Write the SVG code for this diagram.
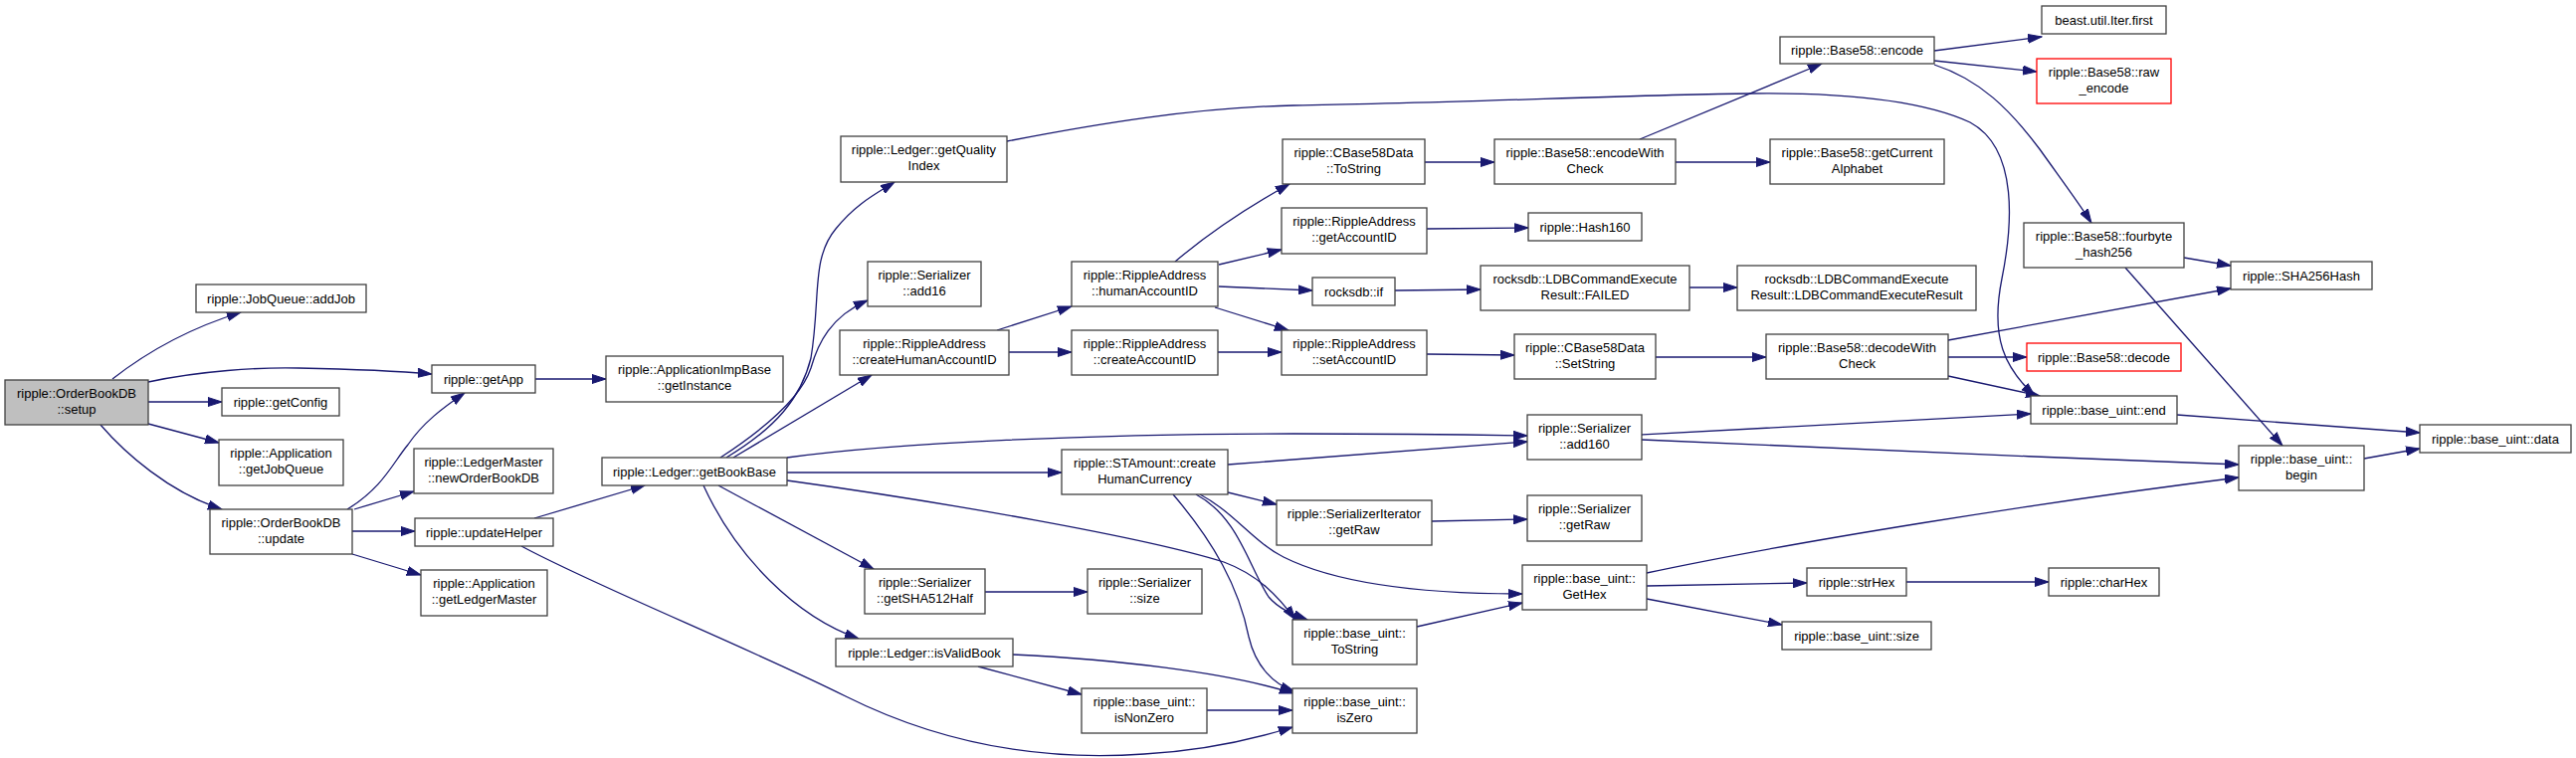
<svg xmlns="http://www.w3.org/2000/svg" width="2589" height="762" viewBox="0 0 2589 762">
<defs>
<style>
.n rect{fill:#ffffff;stroke:#404040;stroke-width:1.3}
.n.root rect{fill:#bfbfbf}
.n.red rect{stroke:#ff0000}
.n text{font-family:"Liberation Sans",Arial,sans-serif;font-size:13px;fill:#000;text-anchor:middle}
.e path{fill:none;stroke:#191970;stroke-width:1.3;marker-end:url(#ah)}
</style>
<marker id="ah" markerWidth="15" markerHeight="10" refX="14" refY="5" orient="auto" markerUnits="userSpaceOnUse">
<path d="M0,0.5 L14,5 L0,9.5 z" fill="#191970" stroke="#191970" stroke-width="1"/>
</marker>
</defs>
<rect width="2589" height="762" fill="#ffffff"/>
<g id="edges" class="e">
<path d="M113,381 C150,352 190,330 242,314"/>
<path d="M149,384 C200,373 260,369 300,370 C350,371 400,373 434,376"/>
<path d="M149,404 L223,404"/>
<path d="M149,426 L220,445"/>
<path d="M101,427 C125,455 170,495 223,512"/>
<path d="M538,381 L609,381"/>
<path d="M349,512 C385,490 395,465 410,447 C425,425 445,410 467,395"/>
<path d="M356,512 L416,494"/>
<path d="M354,534 L417,534"/>
<path d="M354,557 L423,578"/>
<path d="M537,521 L648,488"/>
<path d="M524,549 C600,590 750,650 850,700 C950,750 1050,765 1150,758 C1220,754 1270,740 1299,731"/>
<path d="M730,460 C780,430 805,400 815,360 C825,300 815,260 840,230 C860,205 880,195 899,183"/>
<path d="M724,460 C770,430 805,400 815,370 C822,345 835,318 872,302"/>
<path d="M737,460 L876,377"/>
<path d="M791,460 C900,445 1100,436 1300,436 C1400,436 1480,437 1535,438"/>
<path d="M791,475 L1067,475"/>
<path d="M791,483 C950,505 1150,540 1230,565 C1265,578 1285,600 1302,623"/>
<path d="M722,488 L878,572"/>
<path d="M707,488 C740,560 800,620 863,642"/>
<path d="M983,670 L1087,698"/>
<path d="M1018,658 C1120,663 1230,675 1300,697"/>
<path d="M1213,714 L1299,714"/>
<path d="M990,595 L1093,595"/>
<path d="M1002,332 L1077,308"/>
<path d="M1014,354 L1077,354"/>
<path d="M1181,263 C1220,230 1260,205 1296,185"/>
<path d="M1225,266 L1288,251"/>
<path d="M1225,288 L1319,292"/>
<path d="M1221,309 L1295,332"/>
<path d="M1224,354 L1288,354"/>
<path d="M1432,163 L1502,163"/>
<path d="M1648,140 L1831,64"/>
<path d="M1684,163 L1779,163"/>
<path d="M1434,230 L1536,229"/>
<path d="M1402,292 L1488,291"/>
<path d="M1698,289 L1746,289"/>
<path d="M1434,356 L1522,357"/>
<path d="M1664,359 L1775,359"/>
<path d="M1958,342 L2242,290"/>
<path d="M1958,359 L2037,359"/>
<path d="M1958,378 L2050,398"/>
<path d="M1944,51 L2052,37"/>
<path d="M1944,61 L2047,72"/>
<path d="M1944,65 C1990,80 2020,110 2050,150 C2075,185 2090,205 2102,224"/>
<path d="M2195,259 L2242,267"/>
<path d="M2136,269 L2294,448"/>
<path d="M1650,437 C1800,430 1950,420 2041,416"/>
<path d="M1650,442 C1800,448 2050,460 2250,467"/>
<path d="M1655,576 C1800,545 2050,505 2250,480"/>
<path d="M1655,589 L1816,586"/>
<path d="M1655,602 L1791,628"/>
<path d="M1916,585 L2059,585"/>
<path d="M1424,630 L1530,606"/>
<path d="M1439,524 L1535,522"/>
<path d="M2188,417 L2432,435"/>
<path d="M2376,461 L2432,451"/>
<path d="M1012,142 C1100,125 1200,108 1300,106 C1450,104 1650,95 1760,94 C1850,93 1930,100 1980,123 C2030,150 2022,230 2012,280 C2000,340 2015,370 2045,398"/>
<path d="M1234,467 C1350,458 1450,450 1535,444"/>
<path d="M1234,495 L1283,507"/>
<path d="M1206,497 C1240,515 1260,545 1290,560 C1350,590 1450,597 1530,597"/>
<path d="M1202,497 C1245,520 1255,570 1275,600 C1285,612 1300,618 1314,623"/>
<path d="M1179,497 C1220,545 1245,590 1255,640 C1262,670 1280,688 1301,695"/>
</g>
<g id="n_setup" class="n root"><rect x="5" y="382" width="144" height="45"/><text x="77" y="399.5">ripple::OrderBookDB</text><text x="77" y="416">::setup</text></g>
<g id="n_addJob" class="n"><rect x="197" y="286" width="171" height="28"/><text x="282.5" y="304.5">ripple::JobQueue::addJob</text></g>
<g id="n_getApp" class="n"><rect x="434" y="367" width="104" height="28"/><text x="486" y="385.5">ripple::getApp</text></g>
<g id="n_getConfig" class="n"><rect x="223" y="390" width="118" height="28"/><text x="282" y="408.5">ripple::getConfig</text></g>
<g id="n_getJobQueue" class="n"><rect x="220" y="442" width="125" height="46"/><text x="282.5" y="459.5">ripple::Application</text><text x="282.5" y="476">::getJobQueue</text></g>
<g id="n_update" class="n"><rect x="211" y="512" width="143" height="45"/><text x="282.5" y="529.5">ripple::OrderBookDB</text><text x="282.5" y="546">::update</text></g>
<g id="n_getInstance" class="n"><rect x="609" y="358" width="178" height="46"/><text x="698" y="375.5">ripple::ApplicationImpBase</text><text x="698" y="392">::getInstance</text></g>
<g id="n_newOrderBookDB" class="n"><rect x="416" y="451" width="140" height="45"/><text x="486" y="468.5">ripple::LedgerMaster</text><text x="486" y="485">::newOrderBookDB</text></g>
<g id="n_updateHelper" class="n"><rect x="417" y="521" width="139" height="28"/><text x="486.5" y="539.5">ripple::updateHelper</text></g>
<g id="n_getLedgerMaster" class="n"><rect x="423" y="573" width="127" height="46"/><text x="486.5" y="590.5">ripple::Application</text><text x="486.5" y="607">::getLedgerMaster</text></g>
<g id="n_getBookBase" class="n"><rect x="605" y="460" width="186" height="28"/><text x="698" y="478.5">ripple::Ledger::getBookBase</text></g>
<g id="n_getQualityIndex" class="n"><rect x="845" y="137" width="167" height="46"/><text x="928.5" y="154.5">ripple::Ledger::getQuality</text><text x="928.5" y="171">Index</text></g>
<g id="n_add16" class="n"><rect x="872" y="263" width="114" height="45"/><text x="929" y="280.5">ripple::Serializer</text><text x="929" y="297">::add16</text></g>
<g id="n_createHumanAccountID" class="n"><rect x="844" y="332" width="170" height="45"/><text x="929" y="349.5">ripple::RippleAddress</text><text x="929" y="366">::createHumanAccountID</text></g>
<g id="n_createHumanCurrency" class="n"><rect x="1067" y="452" width="167" height="45"/><text x="1150.5" y="469.5">ripple::STAmount::create</text><text x="1150.5" y="486">HumanCurrency</text></g>
<g id="n_getSHA512Half" class="n"><rect x="869" y="572" width="121" height="45"/><text x="929.5" y="589.5">ripple::Serializer</text><text x="929.5" y="606">::getSHA512Half</text></g>
<g id="n_isValidBook" class="n"><rect x="840" y="642" width="178" height="28"/><text x="929" y="660.5">ripple::Ledger::isValidBook</text></g>
<g id="n_humanAccountID" class="n"><rect x="1077" y="263" width="147" height="45"/><text x="1150.5" y="280.5">ripple::RippleAddress</text><text x="1150.5" y="297">::humanAccountID</text></g>
<g id="n_createAccountID" class="n"><rect x="1077" y="332" width="147" height="45"/><text x="1150.5" y="349.5">ripple::RippleAddress</text><text x="1150.5" y="366">::createAccountID</text></g>
<g id="n_serializer_size" class="n"><rect x="1093" y="572" width="115" height="45"/><text x="1150.5" y="589.5">ripple::Serializer</text><text x="1150.5" y="606">::size</text></g>
<g id="n_isNonZero" class="n"><rect x="1087" y="692" width="126" height="45"/><text x="1150" y="709.5">ripple::base_uint::</text><text x="1150" y="726">isNonZero</text></g>
<g id="n_cb58_ToString" class="n"><rect x="1289" y="140" width="143" height="45"/><text x="1360.5" y="157.5">ripple::CBase58Data</text><text x="1360.5" y="174">::ToString</text></g>
<g id="n_getAccountID" class="n"><rect x="1288" y="209" width="146" height="46"/><text x="1361" y="226.5">ripple::RippleAddress</text><text x="1361" y="243">::getAccountID</text></g>
<g id="n_rocksdb_if" class="n"><rect x="1319" y="279" width="83" height="28"/><text x="1360.5" y="297.5">rocksdb::if</text></g>
<g id="n_setAccountID" class="n"><rect x="1288" y="332" width="146" height="45"/><text x="1361" y="349.5">ripple::RippleAddress</text><text x="1361" y="366">::setAccountID</text></g>
<g id="n_add160" class="n"><rect x="1535" y="417" width="115" height="45"/><text x="1592.5" y="434.5">ripple::Serializer</text><text x="1592.5" y="451">::add160</text></g>
<g id="n_sit_getRaw" class="n"><rect x="1283" y="503" width="156" height="45"/><text x="1361" y="520.5">ripple::SerializerIterator</text><text x="1361" y="537">::getRaw</text></g>
<g id="n_bu_ToString" class="n"><rect x="1299" y="623" width="125" height="45"/><text x="1361.5" y="640.5">ripple::base_uint::</text><text x="1361.5" y="657">ToString</text></g>
<g id="n_isZero" class="n"><rect x="1299" y="692" width="125" height="45"/><text x="1361.5" y="709.5">ripple::base_uint::</text><text x="1361.5" y="726">isZero</text></g>
<g id="n_encodeWithCheck" class="n"><rect x="1502" y="140" width="182" height="45"/><text x="1593" y="157.5">ripple::Base58::encodeWith</text><text x="1593" y="174">Check</text></g>
<g id="n_hash160" class="n"><rect x="1536" y="214" width="114" height="28"/><text x="1593" y="232.5">ripple::Hash160</text></g>
<g id="n_failed" class="n"><rect x="1488" y="267" width="210" height="45"/><text x="1593" y="284.5">rocksdb::LDBCommandExecute</text><text x="1593" y="301">Result::FAILED</text></g>
<g id="n_setString" class="n"><rect x="1522" y="336" width="142" height="45"/><text x="1593" y="353.5">ripple::CBase58Data</text><text x="1593" y="370">::SetString</text></g>
<g id="n_ser_getRaw" class="n"><rect x="1535" y="498" width="115" height="46"/><text x="1592.5" y="515.5">ripple::Serializer</text><text x="1592.5" y="532">::getRaw</text></g>
<g id="n_getHex" class="n"><rect x="1530" y="568" width="125" height="45"/><text x="1592.5" y="585.5">ripple::base_uint::</text><text x="1592.5" y="602">GetHex</text></g>
<g id="n_encode" class="n"><rect x="1789" y="37" width="155" height="27"/><text x="1866.5" y="55">ripple::Base58::encode</text></g>
<g id="n_getCurrentAlphabet" class="n"><rect x="1779" y="140" width="175" height="45"/><text x="1866.5" y="157.5">ripple::Base58::getCurrent</text><text x="1866.5" y="174">Alphabet</text></g>
<g id="n_ldbResult" class="n"><rect x="1746" y="267" width="240" height="45"/><text x="1866" y="284.5">rocksdb::LDBCommandExecute</text><text x="1866" y="301">Result::LDBCommandExecuteResult</text></g>
<g id="n_decodeWithCheck" class="n"><rect x="1775" y="336" width="183" height="45"/><text x="1866.5" y="353.5">ripple::Base58::decodeWith</text><text x="1866.5" y="370">Check</text></g>
<g id="n_strHex" class="n"><rect x="1816" y="571" width="100" height="28"/><text x="1866" y="589.5">ripple::strHex</text></g>
<g id="n_bu_size" class="n"><rect x="1791" y="625" width="150" height="28"/><text x="1866" y="643.5">ripple::base_uint::size</text></g>
<g id="n_iterFirst" class="n"><rect x="2052" y="6" width="125" height="28"/><text x="2114.5" y="24.5">beast.util.Iter.first</text></g>
<g id="n_rawEncode" class="n red"><rect x="2047" y="59" width="135" height="45"/><text x="2114.5" y="76.5">ripple::Base58::raw</text><text x="2114.5" y="93">_encode</text></g>
<g id="n_fourbyte" class="n"><rect x="2034" y="224" width="161" height="45"/><text x="2114.5" y="241.5">ripple::Base58::fourbyte</text><text x="2114.5" y="258">_hash256</text></g>
<g id="n_decode" class="n red"><rect x="2037" y="345" width="155" height="28"/><text x="2114.5" y="363.5">ripple::Base58::decode</text></g>
<g id="n_bu_end" class="n"><rect x="2041" y="398" width="147" height="28"/><text x="2114.5" y="416.5">ripple::base_uint::end</text></g>
<g id="n_charHex" class="n"><rect x="2059" y="571" width="111" height="28"/><text x="2114.5" y="589.5">ripple::charHex</text></g>
<g id="n_sha256" class="n"><rect x="2242" y="263" width="142" height="28"/><text x="2313" y="281.5">ripple::SHA256Hash</text></g>
<g id="n_begin" class="n"><rect x="2250" y="448" width="126" height="45"/><text x="2313" y="465.5">ripple::base_uint::</text><text x="2313" y="482">begin</text></g>
<g id="n_data" class="n"><rect x="2432" y="427" width="152" height="28"/><text x="2508" y="445.5">ripple::base_uint::data</text></g>
</svg>
